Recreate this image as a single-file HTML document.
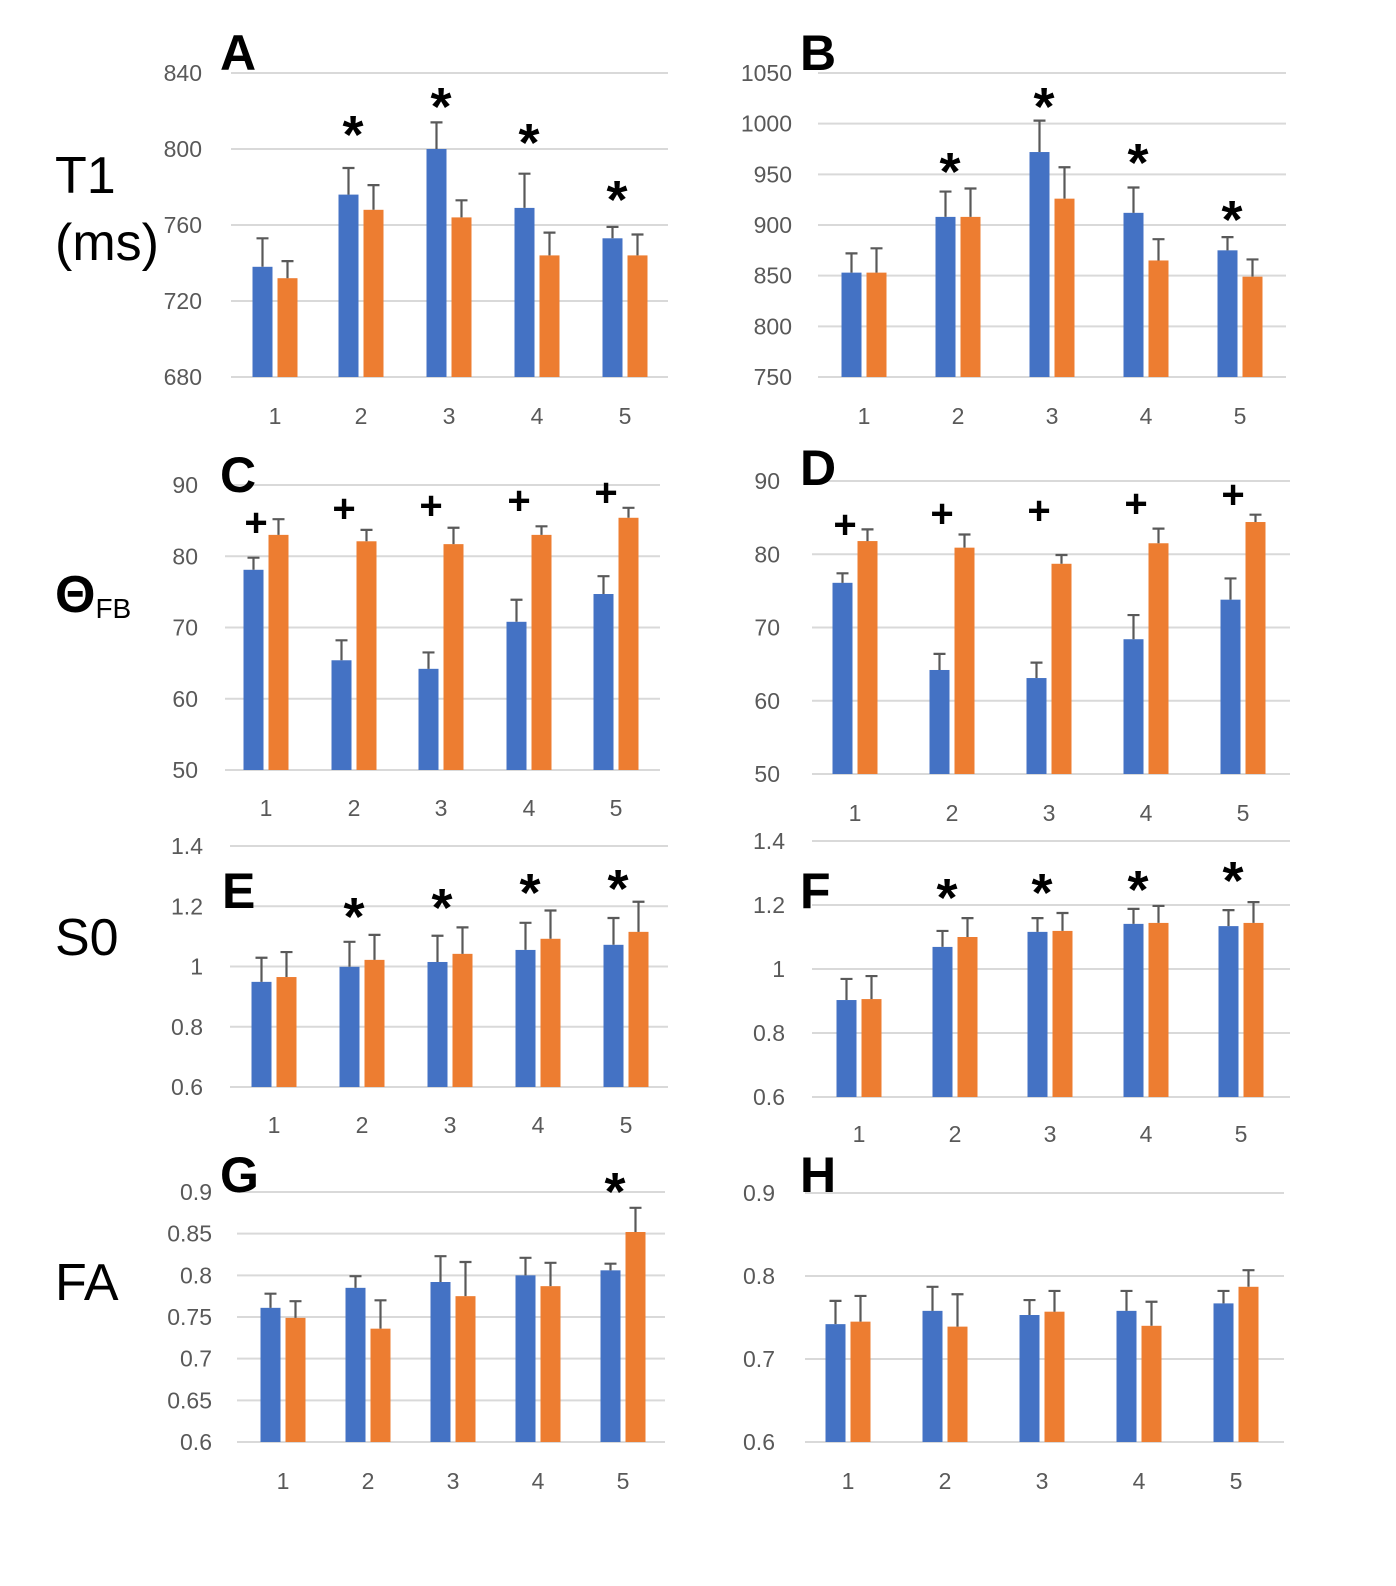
<!DOCTYPE html>
<html><head><meta charset="utf-8"><style>
body{margin:0;background:#fff;width:1396px;height:1586px;overflow:hidden}
svg{display:block}
</style></head><body>
<svg id="fig" width="1396" height="1586" xmlns="http://www.w3.org/2000/svg" font-family="Liberation Sans, sans-serif"></svg>
<script>
const categories=["1","2","3","4","5"];
const aBlue=[738,776,800,769,753], aBlueErr=[15,14,14,18,6];
const aOrange=[732,768,764,744,744], aOrangeErr=[9,13,9,12,11];
const bBlue=[853,908,972,912,875], bBlueErr=[19,25,31,25,13];
const bOrange=[853,908,926,865,849], bOrangeErr=[24,28,31,21,17];
const cBlue=[78.1,65.4,64.2,70.8,74.7], cBlueErr=[1.7,2.8,2.3,3.1,2.5];
const cOrange=[83,82.1,81.7,83,85.4], cOrangeErr=[2.2,1.6,2.3,1.2,1.4];
const dBlue=[76.1,64.2,63.1,68.4,73.8], dBlueErr=[1.3,2.2,2.1,3.3,2.9];
const dOrange=[81.8,80.9,78.7,81.5,84.4], dOrangeErr=[1.6,1.8,1.2,2,1];
const eBlue=[0.949,0.999,1.015,1.055,1.072], eBlueErr=[0.08,0.083,0.087,0.09,0.089];
const eOrange=[0.965,1.022,1.042,1.092,1.115], eOrangeErr=[0.083,0.083,0.088,0.094,0.1];
const fBlue=[0.903,1.069,1.116,1.141,1.134], fBlueErr=[0.066,0.05,0.043,0.047,0.05];
const fOrange=[0.906,1.1,1.119,1.144,1.144], fOrangeErr=[0.072,0.059,0.056,0.053,0.065];
const gBlue=[0.761,0.785,0.792,0.8,0.806], gBlueErr=[0.017,0.014,0.031,0.021,0.008];
const gOrange=[0.749,0.736,0.775,0.787,0.852], gOrangeErr=[0.02,0.034,0.041,0.028,0.029];
const hBlue=[0.742,0.758,0.753,0.758,0.767], hBlueErr=[0.028,0.029,0.018,0.024,0.015];
const hOrange=[0.745,0.739,0.757,0.74,0.787], hOrangeErr=[0.031,0.039,0.025,0.029,0.02];
const aTicks=["680","720","760","800","840"], bTicks=["750","800","850","900","950","1000","1050"];
const cTicks=["50","60","70","80","90"], dTicks=cTicks;
const eTicks=["0.6","0.8","1","1.2","1.4"], fTicks=eTicks;
const gTicks=["0.6","0.65","0.7","0.75","0.8","0.85","0.9"], hTicks=["0.6","0.7","0.8","0.9"];
const aMarks=["","*","*","*","*"], bMarks=["","*","*","*","*"];
const cMarks=["+","+","+","+","+"], dMarks=cMarks;
const eMarks=["","*","*","*","*"], fMarks=eMarks;
const gMarks=["","","","","*"], hMarks=["","","","",""];

const NS="http://www.w3.org/2000/svg", svg=document.getElementById('fig');
function mk(tag,attrs,parent,text){const e=document.createElementNS(NS,tag);for(const k in attrs)e.setAttribute(k,attrs[k]);if(text!==undefined)e.textContent=text;(parent||svg).appendChild(e);return e;}

const panels=[
 {id:'a',L:'A',lx:220,ly:70,x0:231,x1:668,cx:[275,361,449,537,625],y0:377,y1:73,ticks:aTicks,blue:aBlue,be:aBlueErr,or:aOrange,oe:aOrangeErr,marks:aMarks,ylx:202,xly:424,mk:[0,125,97,133,190]},
 {id:'b',L:'B',lx:800,ly:70,x0:818,x1:1286,cx:[864,958,1052,1146,1240],y0:377,y1:73,ticks:bTicks,blue:bBlue,be:bBlueErr,or:bOrange,oe:bOrangeErr,marks:bMarks,ylx:792,xly:424,mk:[0,162,97,153,210]},
 {id:'c',L:'C',lx:220,ly:492,x0:225,x1:660,cx:[266,354,441,529,616],y0:770,y1:485,ticks:cTicks,blue:cBlue,be:cBlueErr,or:cOrange,oe:cOrangeErr,marks:cMarks,ylx:198,xly:816,mk:[522,508,505,500,492]},
 {id:'d',L:'D',lx:800,ly:485,x0:812,x1:1290,cx:[855,952,1049,1146,1243],y0:774,y1:481,ticks:dTicks,blue:dBlue,be:dBlueErr,or:dOrange,oe:dOrangeErr,marks:dMarks,ylx:780,xly:821,mk:[524,513,510,503,494]},
 {id:'e',L:'E',lx:222,ly:908,x0:230,x1:668,cx:[274,362,450,538,626],y0:1087,y1:846,ticks:eTicks,blue:eBlue,be:eBlueErr,or:eOrange,oe:eOrangeErr,marks:eMarks,ylx:203,xly:1133,mk:[0,907,898,883,879]},
 {id:'f',L:'F',lx:800,ly:908,x0:812,x1:1290,cx:[859,955,1050,1146,1241],y0:1097,y1:841,ticks:fTicks,blue:fBlue,be:fBlueErr,or:fOrange,oe:fOrangeErr,marks:fMarks,ylx:785,xly:1142,mk:[0,888,883,880,871]},
 {id:'g',L:'G',lx:220,ly:1192,x0:237,x1:665,cx:[283,368,453,538,623],y0:1442,y1:1192,ticks:gTicks,blue:gBlue,be:gBlueErr,or:gOrange,oe:gOrangeErr,marks:gMarks,ylx:212,xly:1489,mk:[0,0,0,0,1182]},
 {id:'h',L:'H',lx:800,ly:1192,x0:805,x1:1284,cx:[848,945,1042,1139,1236],y0:1442,y1:1193,ticks:hTicks,blue:hBlue,be:hBlueErr,or:hOrange,oe:hOrangeErr,marks:hMarks,ylx:775,xly:1489,mk:[0,0,0,0,0]}
];

panels.forEach(p=>{
 const g=mk('g',{});
 
 
 const vmin=parseFloat(p.ticks[0]),vmax=parseFloat(p.ticks[p.ticks.length-1]);
 const Y=v=>p.y0-(v-vmin)/(vmax-vmin)*(p.y0-p.y1);
 p.ticks.forEach(t=>{
  const y=Y(parseFloat(t));
  const gl=mk('line',{x1:p.x0,x2:p.x1,y1:y,y2:y,stroke:'#d9d9d9','stroke-width':2},g);
  
  
  const tl=mk('text',{x:p.ylx,y:y+8,'text-anchor':'end','font-size':23,fill:'#595959'},g,t);
  
  
 });
 const bw=20;
 categories.forEach((c,i)=>{
  const cx=p.cx[i];
  [[p.blue,p.be,'#4472C4',cx-12.5,'blue'],[p.or,p.oe,'#ED7D31',cx+12.5,'orange']].forEach(([vals,errs,col,bc,nm])=>{
   const top=Y(vals[i]);
   const r=mk('rect',{x:bc-bw/2,y:top,width:bw,height:p.y0-top,fill:col},g);
   
   
   const et=Y(vals[i]+errs[i]);
   const e=mk('path',{d:`M${bc} ${top}V${et}M${bc-6} ${et}H${bc+6}`,stroke:'#595959','stroke-width':2.2,fill:'none'},g);
   
   
  });
  const xl=mk('text',{x:cx,y:p.xly,'text-anchor':'middle','font-size':23,fill:'#595959'},g,c);
  
  
  if(p.marks[i]){
   const star=p.marks[i]==='*';
   const mx=star?cx-8:cx-10;
   const m=mk('text',{x:mx,y:p.mk[i]+(star?28:14),'text-anchor':'middle','font-size':star?54:40,'font-weight':'bold',fill:'#000'},g,p.marks[i]);
   
   
  }
 });
 const pl=mk('text',{x:p.lx,y:p.ly,'font-size':50,'font-weight':'bold',fill:'#000'},g,p.L);
 
 
});
const rows=[['T1',55,193],['(ms)',55,260],['S0',55,955],['FA',55,1300]];
rows.forEach(r=>{
 const t=mk('text',{x:r[1],y:r[2],'font-size':52,fill:'#000'},svg,r[0]);
 
 
});
const th=mk('text',{x:55,y:612,'font-size':52,'font-weight':'bold',fill:'#000'},svg);


th.innerHTML='Θ<tspan font-size="28" font-weight="normal" dy="6">FB</tspan>';
</script>
</body></html>
